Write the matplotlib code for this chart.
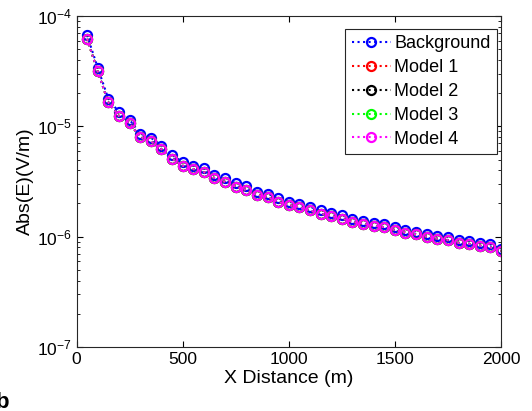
import numpy as np
import matplotlib.pyplot as plt

plt.rcParams['font.family'] = ['Liberation Sans', 'DejaVu Sans']
plt.rcParams['mathtext.fontset'] = 'custom'
plt.rcParams['mathtext.rm'] = 'Liberation Sans'

# x positions of the receivers (m)
x_dist = [50, 100, 150, 200, 250, 300, 350, 400, 450, 500,
          550, 600, 650, 700, 750, 800, 850, 900, 950, 1000,
          1050, 1100, 1150, 1200, 1250, 1300, 1350, 1400, 1450, 1500,
          1550, 1600, 1650, 1700, 1750, 1800, 1850, 1900, 1950, 2000]

# |E| for the background model
background = [6.7e-5, 3.4e-5, 1.78e-5, 1.34e-5, 1.15e-5, 8.6e-6, 7.9e-6, 6.7e-6, 5.5e-6, 4.75e-6,
              4.4e-6, 4.15e-6, 3.65e-6, 3.38e-6, 3.05e-6, 2.85e-6, 2.56e-6, 2.46e-6, 2.22e-6, 2.07e-6,
              1.99e-6, 1.86e-6, 1.74e-6, 1.65e-6, 1.56e-6, 1.45e-6, 1.40e-6, 1.34e-6, 1.30e-6, 1.22e-6,
              1.16e-6, 1.11e-6, 1.06e-6, 1.02e-6, 0.99e-6, 0.93e-6, 0.91e-6, 0.88e-6, 0.85e-6, 0.78e-6]

# models 1-4 lie on top of each other (only model 4 is visible)
model_1 = [6.2e-5, 3.15e-5, 1.65e-5, 1.24e-5, 1.07e-5, 8.0e-6, 7.35e-6, 6.2e-6, 5.1e-6, 4.4e-6,
           4.1e-6, 3.85e-6, 3.4e-6, 3.14e-6, 2.84e-6, 2.65e-6, 2.38e-6, 2.29e-6, 2.07e-6, 1.93e-6,
           1.85e-6, 1.73e-6, 1.62e-6, 1.54e-6, 1.46e-6, 1.36e-6, 1.31e-6, 1.26e-6, 1.22e-6, 1.15e-6,
           1.09e-6, 1.05e-6, 1.0e-6, 0.96e-6, 0.93e-6, 0.88e-6, 0.86e-6, 0.83e-6, 0.80e-6, 0.74e-6]
model_2 = [6.2e-5, 3.15e-5, 1.65e-5, 1.24e-5, 1.07e-5, 8.0e-6, 7.35e-6, 6.2e-6, 5.1e-6, 4.4e-6,
           4.1e-6, 3.85e-6, 3.4e-6, 3.14e-6, 2.84e-6, 2.65e-6, 2.38e-6, 2.29e-6, 2.07e-6, 1.93e-6,
           1.85e-6, 1.73e-6, 1.62e-6, 1.54e-6, 1.46e-6, 1.36e-6, 1.31e-6, 1.26e-6, 1.22e-6, 1.15e-6,
           1.09e-6, 1.05e-6, 1.0e-6, 0.96e-6, 0.93e-6, 0.88e-6, 0.86e-6, 0.83e-6, 0.80e-6, 0.74e-6]
model_3 = [6.2e-5, 3.15e-5, 1.65e-5, 1.24e-5, 1.07e-5, 8.0e-6, 7.35e-6, 6.2e-6, 5.1e-6, 4.4e-6,
           4.1e-6, 3.85e-6, 3.4e-6, 3.14e-6, 2.84e-6, 2.65e-6, 2.38e-6, 2.29e-6, 2.07e-6, 1.93e-6,
           1.85e-6, 1.73e-6, 1.62e-6, 1.54e-6, 1.46e-6, 1.36e-6, 1.31e-6, 1.26e-6, 1.22e-6, 1.15e-6,
           1.09e-6, 1.05e-6, 1.0e-6, 0.96e-6, 0.93e-6, 0.88e-6, 0.86e-6, 0.83e-6, 0.80e-6, 0.74e-6]
model_4 = [6.2e-5, 3.15e-5, 1.65e-5, 1.24e-5, 1.07e-5, 8.0e-6, 7.35e-6, 6.2e-6, 5.1e-6, 4.4e-6,
           4.1e-6, 3.85e-6, 3.4e-6, 3.14e-6, 2.84e-6, 2.65e-6, 2.38e-6, 2.29e-6, 2.07e-6, 1.93e-6,
           1.85e-6, 1.73e-6, 1.62e-6, 1.54e-6, 1.46e-6, 1.36e-6, 1.31e-6, 1.26e-6, 1.22e-6, 1.15e-6,
           1.09e-6, 1.05e-6, 1.0e-6, 0.96e-6, 0.93e-6, 0.88e-6, 0.86e-6, 0.83e-6, 0.80e-6, 0.74e-6]

series = [('Background', background, 'b'),
          ('Model 1', model_1, 'r'),
          ('Model 2', model_2, 'k'),
          ('Model 3', model_3, 'lime'),
          ('Model 4', model_4, 'magenta')]

fig = plt.figure(figsize=(5.32, 4.11), dpi=100)
ax = fig.add_axes([0.1438, 0.1557, 0.7979, 0.8053])

for name, vals, col in series:
    ax.semilogy(x_dist, vals, ':o', color=col, label=name, linewidth=1.5,
                markersize=6.5, markerfacecolor='none', markeredgewidth=1.6)

ax.set_xlim(0, 2000)
ax.set_ylim(1e-7, 1e-4)
ax.set_xticks([0, 500, 1000, 1500, 2000])
ax.tick_params(which='both', direction='in', top=True, right=True, labelsize=12.5)
ax.tick_params(which='major', length=4)
ax.tick_params(which='minor', length=2.5)
for sp in ax.spines.values():
    sp.set_color('#262626')
ax.set_xlabel('X Distance (m)', fontsize=14, labelpad=2)
ax.set_ylabel('Abs(E)(V/m)', fontsize=14, labelpad=2)

leg = ax.legend(loc='upper right', bbox_to_anchor=(0.99, 0.961), fontsize=13,
                fancybox=False, framealpha=1, edgecolor='#262626',
                handlelength=2.2, handletextpad=0.15, borderpad=0.35,
                labelspacing=0.38, borderaxespad=0)
leg.get_frame().set_linewidth(0.8)

# panel letter, clipped at the left edge as in the original figure
fig.text(-0.008, 0.008, 'b', fontsize=16, fontweight='bold')

fig.savefig('out.png', dpi=100)
